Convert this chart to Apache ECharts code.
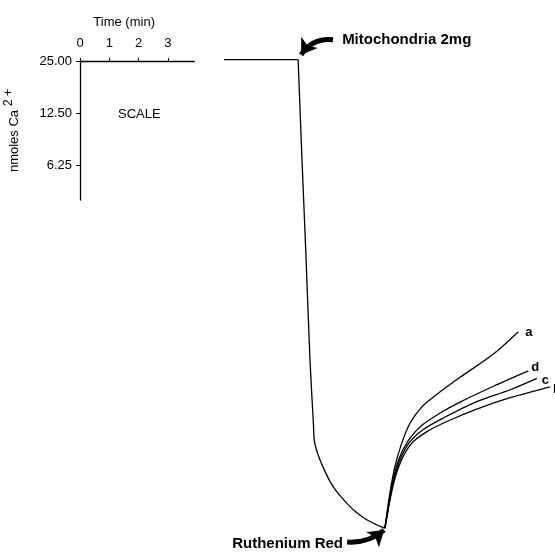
<!DOCTYPE html>
<html><head><meta charset="utf-8">
<script src="https://cdn.jsdelivr.net/npm/echarts@6/dist/echarts.min.js"></script>
<style>html,body{margin:0;padding:0;background:#fff}#c{width:555px;height:556px}</style>
</head><body><div id="c"></div>
<script>
// Scale box tick labels
const timeTicks = ['0', '1', '2', '3'];
const caTicks = ['25.00', '12.50', '6.25'];
// Main trace (time in min, relative signal level)
const baseT = [4.91, 7.44, 7.57, 7.71, 7.84, 7.96, 7.99, 8.07, 8.19, 8.36, 8.53, 8.75, 9.04, 9.38, 9.78, 10.12, 10.40];
const baseV = [96, 96, 76, 56, 36, 22.7, 19.3, 17.3, 15.3, 13, 11, 9, 7, 5, 3.3, 2.3, 1.6];
// Recovery curves after Ruthenium Red
const aT = [10.40, 10.57, 10.74, 10.97, 11.25, 11.65, 12.11, 12.96, 14.10, 14.95];
const aV = [1.6, 8.7, 14, 18.7, 22.7, 26, 28.3, 32, 36.7, 41.2];
const dT = [10.40, 10.63, 10.86, 11.20, 11.65, 12.28, 12.96, 14.10, 15.29];
const dV = [1.6, 10, 15.3, 19.3, 22.3, 24.8, 27.0, 30.2, 33.3];
const cT = [10.40, 10.65, 10.91, 11.25, 11.71, 12.39, 13.53, 14.67, 15.58];
const cV = [1.6, 10, 15.3, 19, 21.5, 23.8, 27.1, 29.5, 31.8];
const bT = [10.40, 10.67, 10.94, 11.31, 11.82, 12.51, 13.53, 14.67, 16.03];
const bV = [1.6, 10, 15, 18.7, 21, 23.1, 25.6, 27.9, 30.1];
// Annotations (event arrows and their labels)
const mitoArrow = [[8.63, 100], [7.54, 97]];
const rrArrow = [[9.11, -1.2], [10.37, 1.2]];
const mitoLabelAt = [8.94, 100];
const rrLabelAt = [8.97, -1.6];
const mitoText = 'Mitochondria 2mg';
const rrText = 'Ruthenium Red';

const FONT = "'Liberation Sans', Arial, sans-serif";
const zip = (t, v) => t.map((x, i) => [x, v[i]]);
const lineStyle = { color: '#000', width: 1.3 };
const timeTickValues = timeTicks.map((_, i) => i);
const caTickValues = caTicks.map((_, i) => i);

const chart = echarts.init(document.getElementById('c'), null, { renderer: 'canvas' });

function curve(name, t, v, offset) {
  return {
    type: 'line', name, xAxisIndex: 1, yAxisIndex: 1,
    data: zip(t, v), smooth: 0.3, symbol: 'none', lineStyle,
    endLabel: { show: true, formatter: '{a}', color: '#000', fontFamily: FONT,
      fontWeight: 'bold', fontSize: 13, offset, distance: 3 },
    silent: true, animation: false
  };
}

const baseData = zip(baseT, baseV);

chart.setOption({
  animation: false,
  backgroundColor: '#fff',
  title: {
    text: 'SCALE', left: 113, top: 103,
    textStyle: { fontFamily: FONT, fontWeight: 'normal', fontSize: 13, color: '#000' }
  },
  grid: [
    { left: 80, top: 61, width: 114.3, height: 139 },
    { left: 80, top: 20, width: 475, height: 540 }
  ],
  xAxis: [
    {
      gridIndex: 0, type: 'value', position: 'top', min: 0, max: 3.9, interval: 1,
      name: 'Time (min)', nameLocation: 'middle', nameGap: 32,
      nameTextStyle: { fontFamily: FONT, fontSize: 13, color: '#000', padding: [0, 26, 0, 0] },
      axisLine: { show: true, lineStyle: { color: '#000', width: 1.3 } },
      axisTick: { show: true, length: 3, customValues: timeTickValues, lineStyle: { color: '#000' } },
      axisLabel: { margin: 11, fontFamily: FONT, fontSize: 13, color: '#000',
        customValues: timeTickValues,
        formatter: v => (Number.isInteger(v) && timeTicks[v] !== undefined) ? timeTicks[v] : '' },
      splitLine: { show: false }
    },
    { gridIndex: 1, type: 'value', min: 0, max: 16.2, show: false }
  ],
  yAxis: [
    {
      gridIndex: 0, type: 'value', inverse: true, min: 0, max: 2.67, interval: 1,
      name: 'nmoles Ca{s|2 +}', nameLocation: 'middle', nameGap: 55, nameRotate: 90,
      nameTextStyle: { fontFamily: FONT, fontSize: 13, color: '#000',
        rich: { s: { fontFamily: FONT, fontSize: 12, color: '#000', padding: [0, 0, 10, 4] } } },
      axisLine: { show: true, lineStyle: { color: '#000', width: 1.3 } },
      axisTick: { show: true, length: 4, customValues: caTickValues, lineStyle: { color: '#000' } },
      axisLabel: { margin: 8, fontFamily: FONT, fontSize: 13, color: '#000',
        customValues: caTickValues,
        formatter: v => (Number.isInteger(v) && caTicks[v] !== undefined) ? caTicks[v] : '' },
      splitLine: { show: false }
    },
    { gridIndex: 1, type: 'value', min: -4, max: 104, show: false }
  ],
  series: [
    {
      type: 'line', name: 'baseline', xAxisIndex: 1, yAxisIndex: 1,
      data: baseData.slice(0, 2), smooth: false, symbol: 'none', lineStyle, silent: true
    },
    {
      type: 'line', name: 'trace', xAxisIndex: 1, yAxisIndex: 1,
      data: baseData.slice(1), smooth: 0.3, symbol: 'none', lineStyle,
      silent: true,
      markPoint: {
        silent: true, symbol: 'circle', symbolSize: 0,
        data: [
          { coord: mitoLabelAt, value: mitoText,
            label: { show: true, position: 'right', distance: 0, formatter: mitoText,
              fontFamily: FONT, fontWeight: 'bold', fontSize: 15, color: '#000' } },
          { coord: rrLabelAt, value: rrText,
            label: { show: true, position: 'left', distance: 0, formatter: rrText,
              fontFamily: FONT, fontWeight: 'bold', fontSize: 15, color: '#000' } }
        ]
      }
    },
    {
      type: 'lines', name: 'arrows', coordinateSystem: 'cartesian2d', xAxisIndex: 1, yAxisIndex: 1,
      silent: true, symbol: ['none', 'arrow'], symbolSize: 15,
      lineStyle: { color: '#000', width: 5, opacity: 1 },
      data: [
        { coords: mitoArrow, lineStyle: { curveness: -0.3 } },
        { coords: rrArrow, lineStyle: { curveness: -0.2 } }
      ]
    },
    curve('a', aT, aV, [4, 1]),
    curve('d', dT, dV, [0, -3]),
    curve('c', cT, cV, [2, 2]),
    curve('b', bT, bV, [0, 3])
  ]
});
</script>
</body></html>
